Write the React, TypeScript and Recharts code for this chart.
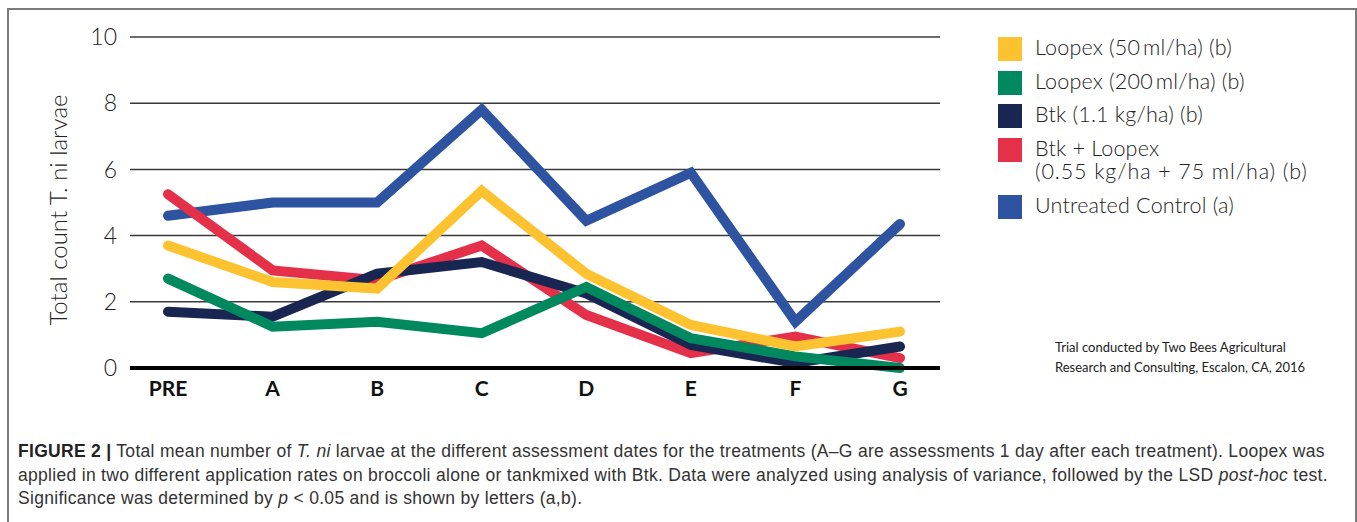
import React from 'react';
import { LineChart, Line, XAxis, YAxis, CartesianGrid } from 'recharts';

const categories = ['PRE', 'A', 'B', 'C', 'D', 'E', 'F', 'G'];
const loopex50 = [3.7, 2.6, 2.4, 5.35, 2.85, 1.3, 0.65, 1.1];
const loopex200 = [2.7, 1.25, 1.4, 1.05, 2.45, 0.9, 0.35, 0.0];
const btk = [1.7, 1.55, 2.85, 3.2, 2.25, 0.7, 0.15, 0.65];
const btkLoopex = [5.25, 2.95, 2.65, 3.7, 1.6, 0.45, 0.95, 0.3];
const control = [4.6, 5.0, 5.0, 7.8, 4.45, 5.9, 1.4, 4.35];
const yTicks = [0, 2, 4, 6, 8, 10];

const COLORS = {
  loopex50: '#FDC22F',
  loopex200: '#00895F',
  btk: '#1A2652',
  btkLoopex: '#E5304A',
  control: '#2D53A1',
};

const data = categories.map((c, i) => ({
  name: c,
  loopex50: loopex50[i],
  loopex200: loopex200[i],
  btk: btk[i],
  btkLoopex: btkLoopex[i],
  control: control[i],
}));

const legendItems = [
  { key: 'loopex50', lines: ['Loopex (50\u2009ml/ha) (b)'] },
  { key: 'loopex200', lines: ['Loopex (200\u2009ml/ha) (b)'] },
  { key: 'btk', lines: ['Btk (1.1 kg/ha) (b)'] },
  { key: 'btkLoopex', lines: ['Btk + Loopex', '(0.55 kg/ha + 75 ml/ha) (b)'] },
  { key: 'control', lines: ['Untreated Control (a)'] },
];

const FONT = 'Lato, "Open Sans", sans-serif';

export default function App() {
  const lineProps = {
    type: 'linear' as const,
    strokeWidth: 10,
    dot: false,
    activeDot: false,
    isAnimationActive: false,
    strokeLinecap: 'round' as const,
    strokeLinejoin: 'miter' as const,
  };
  return (
    <div style={{ position: 'absolute', left: 0, top: 0, width: 1357, height: 522, overflow: 'hidden', background: '#fff' }}>
      <div style={{ position: 'absolute', left: 7, top: 8, width: 1346, height: 600, borderTop: '2px solid #7a7a7a', borderLeft: '2px solid #7a7a7a', borderRight: '2px solid #7a7a7a' }} />
      <div style={{ position: 'absolute', left: 0, top: 0 }}>
        <LineChart width={960} height={400} data={data} margin={{ top: 37, right: 20, bottom: 2, left: 0 }}>
          <CartesianGrid vertical={false} stroke="#3a3a3a" strokeWidth={1.5} />
          <XAxis
            dataKey="name"
            height={30}
            padding={{ left: 38, right: 40 }}
            axisLine={{ stroke: '#000', strokeWidth: 4 }}
            tickLine={false}
            tickSize={0}
            tickMargin={13}
            interval={0}
            tick={{ fill: '#111', fontSize: 21, fontWeight: 700, fontFamily: FONT }}
          />
          <YAxis
            width={130}
            domain={[0, 10]}
            ticks={yTicks}
            axisLine={false}
            tickLine={false}
            tickSize={0}
            tickMargin={13}
            tick={{ fill: '#222', fontSize: 23, fontWeight: 300, fontFamily: FONT }}
          />
          <Line dataKey="control" stroke={COLORS.control} {...lineProps} />
          <Line dataKey="btkLoopex" stroke={COLORS.btkLoopex} {...lineProps} />
          <Line dataKey="btk" stroke={COLORS.btk} {...lineProps} />
          <Line dataKey="loopex200" stroke={COLORS.loopex200} {...lineProps} />
          <Line dataKey="loopex50" stroke={COLORS.loopex50} {...lineProps} />
        </LineChart>
      </div>
      <div style={{ position: 'absolute', left: 57, top: 210, transform: 'translate(-50%, -50%) rotate(-90deg)', whiteSpace: 'nowrap', fontFamily: FONT, fontWeight: 300, fontSize: 24, color: '#222' }}>
        Total count T. ni larvae
      </div>
      <div style={{ position: 'absolute', left: 998, top: 36, fontFamily: FONT, fontWeight: 300, fontSize: 21.5, color: '#222' }}>
        {legendItems.map((it) => (
          <div key={it.key} style={{ display: 'flex', alignItems: 'flex-start', height: it.lines.length * 23.5 + 10 }}>
            <div style={{ width: 24, height: 24, marginTop: 1, background: (COLORS as any)[it.key], flex: 'none' }} />
            <div style={{ marginLeft: 13, lineHeight: '23.5px', whiteSpace: 'nowrap' }}>
              {it.lines.map((l, i) => (
                <div key={i} style={{ letterSpacing: i === 1 ? 0.9 : 0.2 }}>{l}</div>
              ))}
            </div>
          </div>
        ))}
      </div>
      <div style={{ position: 'absolute', left: 1055, top: 337, fontFamily: FONT, fontSize: 13, lineHeight: '20px', color: '#222', whiteSpace: 'nowrap' }}>
        <div>Trial conducted by Two Bees Agricultural</div>
        <div>Research and Consulting, Escalon, CA, 2016</div>
      </div>
      <div style={{ position: 'absolute', left: 18, top: 440, width: 1330, fontFamily: '"Liberation Sans", Arial, sans-serif', fontSize: 17.5, letterSpacing: 0.3, lineHeight: '23.5px', color: '#333' }}>
        <div style={{ whiteSpace: 'nowrap' }}>
          <b style={{ color: '#222' }}>FIGURE 2 |</b> Total mean number of <i>T. ni</i> larvae at the different assessment dates for the treatments (A–G are assessments 1 day after each treatment). Loopex was
        </div>
        <div style={{ whiteSpace: 'nowrap' }}>
          applied in two different application rates on broccoli alone or tankmixed with Btk. Data were analyzed using analysis of variance, followed by the LSD <i>post-hoc</i> test.
        </div>
        <div style={{ whiteSpace: 'nowrap' }}>
          Significance was determined by <i>p</i> &lt; 0.05 and is shown by letters (a,b).
        </div>
      </div>
    </div>
  );
}
